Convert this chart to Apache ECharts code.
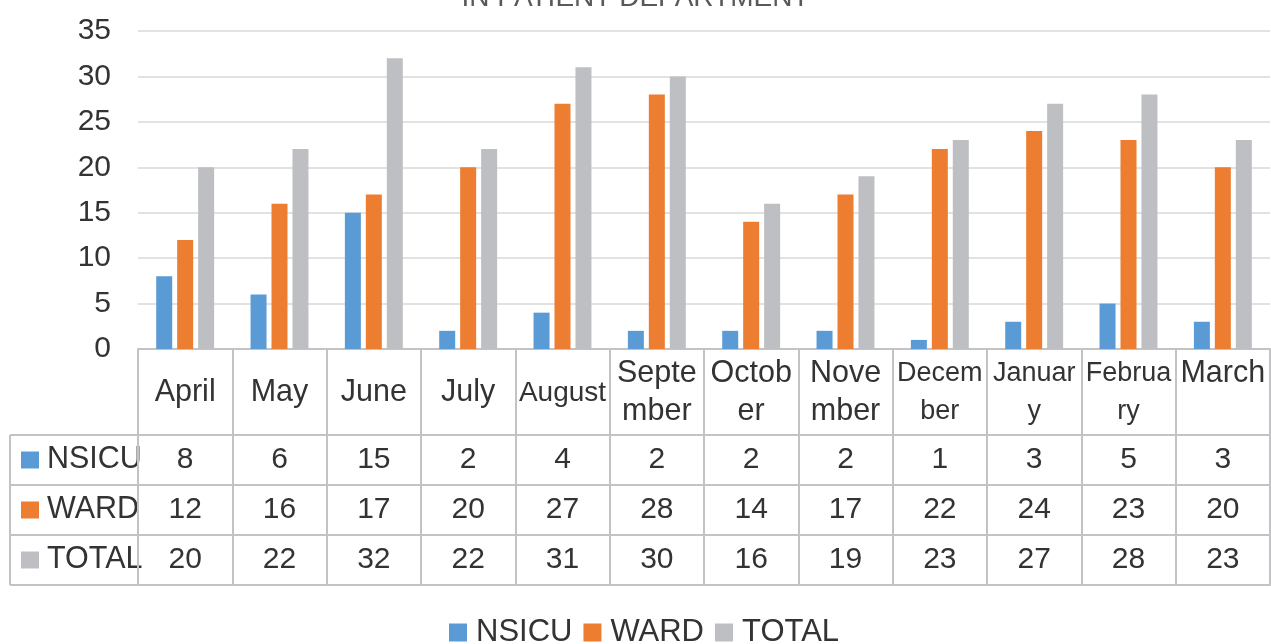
<!DOCTYPE html>
<html>
<head>
<meta charset="utf-8">
<script src="https://cdn.jsdelivr.net/npm/echarts@6/dist/echarts.min.js"></script>
<style>
  html, body { margin: 0; padding: 0; background: #fff; }
  #main { width: 1271px; height: 644px; }
</style>
</head>
<body>
<div id="main"></div>
<script>
// data
const months = ['April', 'May', 'June', 'July', 'August', 'September', 'October',
  'November', 'December', 'January', 'February', 'March'];
// how the header cells wrap the month names
const headerLabels = ['April', 'May', 'June', 'July', 'August', 'Septe\nmber', 'Octob\ner',
  'Nove\nmber', 'Decem\nber', 'Januar\ny', 'Februa\nry', 'March\n '];
const nsicu = [8, 6, 15, 2, 4, 2, 2, 2, 1, 3, 5, 3];
const ward = [12, 16, 17, 20, 27, 28, 14, 17, 22, 24, 23, 20];
const total = [20, 22, 32, 22, 31, 30, 16, 19, 23, 27, 28, 23];
const yTicks = { min: 0, max: 35, interval: 5 };

const colors = { NSICU: '#5B9BD5', WARD: '#ED7D31', TOTAL: '#BEBFC2' };
const textColor = '#333333';
const border = '#C3C3C5';
const font = 'Liberation Sans, Arial, sans-serif';

// table layout
const plotLeft = 138, plotTop = 31, plotBottom = 349;
const headerH = 86, rowH = 50, tableLeft = 10;

const myChart = echarts.init(document.getElementById('main'));

// one extra category axis for every row of the data table
function rowAxis(name, values, idx) {
  return {
    type: 'category',
    gridIndex: 0,
    position: 'bottom',
    offset: headerH + idx * rowH,
    data: values.map(String),
    axisLine: { show: true, lineStyle: { color: border, width: 2 } },
    axisTick: { show: true, interval: 0, length: rowH, lineStyle: { color: border, width: 2 } },
    axisLabel: {
      interval: 0, margin: rowH / 2, verticalAlign: 'middle',
      fontSize: 30, color: textColor, fontFamily: font
    },
    name: '{sq|}{t|' + name + '}',
    nameLocation: 'start',
    nameGap: plotLeft - tableLeft - 11,
    nameTextStyle: {
      align: 'left',
      verticalAlign: 'top',
      rich: {
        sq: { width: 18, height: 17, backgroundColor: colors[name] },
        t: { fontSize: 30.5, color: textColor, fontFamily: font, padding: [0, 0, 0, 8], lineHeight: rowH }
      }
    }
  };
}

function hLine(y) {
  return {
    type: 'line', z: -1,
    shape: { x1: tableLeft, y1: y, x2: plotLeft, y2: y },
    style: { stroke: border, lineWidth: 2 }
  };
}

const rowTop = plotBottom + headerH;

const option = {
  animation: false,
  title: {
    text: 'IN PATIENT DEPARTMENT',
    left: 'center',
    top: -21,
    textStyle: { fontSize: 28, fontWeight: 'normal', color: '#595959', fontFamily: font }
  },
  legend: {
    data: ['NSICU', 'WARD', 'TOTAL'],
    bottom: -4,
    left: 449,
    padding: 0,
    icon: 'rect',
    itemWidth: 18,
    itemHeight: 18,
    itemGap: 11,
    textStyle: { fontSize: 31, color: textColor, fontFamily: font, padding: [0, 0, 0, 4] }
  },
  grid: {
    left: plotLeft,
    right: 1,
    top: plotTop,
    bottom: 644 - plotBottom
  },
  xAxis: [
    {
      type: 'category',
      data: months,
      axisLine: { show: true, lineStyle: { color: border, width: 2 } },
      axisTick: { show: true, interval: 0, length: headerH, lineStyle: { color: border, width: 2 } },
      axisLabel: {
        interval: 0,
        margin: headerH / 2 + 1,
        verticalAlign: 'middle',
        formatter: function (v, i) {
          const small = ['December', 'January', 'February'];
          const key = small.indexOf(v) >= 0 ? 's' : (v === 'August' ? 'm' : 'n');
          return headerLabels[i].split('\n').map(function (p) {
            return '{' + key + '|' + p + '}';
          }).join('\n');
        },
        rich: {
          n: { fontSize: 30.5, lineHeight: 38, color: textColor, fontFamily: font },
          m: { fontSize: 28, lineHeight: 38, color: textColor, fontFamily: font },
          s: { fontSize: 27, lineHeight: 38, color: textColor, fontFamily: font }
        }
      }
    },
    rowAxis('NSICU', nsicu, 0),
    rowAxis('WARD', ward, 1),
    rowAxis('TOTAL', total, 2),
    {
      type: 'category',
      position: 'bottom',
      offset: headerH + 3 * rowH,
      data: months,
      axisLine: { show: true, lineStyle: { color: border, width: 2 } },
      axisTick: { show: false },
      axisLabel: { show: false }
    }
  ],
  yAxis: {
    type: 'value',
    min: yTicks.min,
    max: yTicks.max,
    interval: yTicks.interval,
    axisLine: { show: false },
    axisTick: { show: false },
    axisLabel: { fontSize: 30, color: textColor, fontFamily: font, margin: 27 },
    splitLine: { lineStyle: { color: '#D9D9D9', width: 1.5 } }
  },
  graphic: [
    {
      type: 'line', z: -1,
      shape: { x1: tableLeft, y1: rowTop, x2: tableLeft, y2: rowTop + 3 * rowH },
      style: { stroke: border, lineWidth: 2 }
    },
    hLine(rowTop),
    hLine(rowTop + rowH),
    hLine(rowTop + 2 * rowH),
    hLine(rowTop + 3 * rowH)
  ],
  series: [
    { name: 'NSICU', type: 'bar', data: nsicu, barWidth: 16, barGap: '31%', itemStyle: { color: colors.NSICU } },
    { name: 'WARD', type: 'bar', data: ward, barWidth: 16, barGap: '31%', itemStyle: { color: colors.WARD } },
    { name: 'TOTAL', type: 'bar', data: total, barWidth: 16, barGap: '31%', itemStyle: { color: colors.TOTAL } }
  ]
};

myChart.setOption(option);
</script>
</body>
</html>
